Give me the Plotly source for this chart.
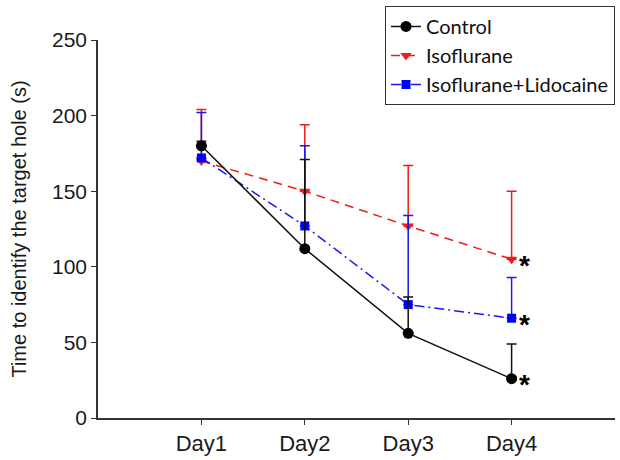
import plotly.graph_objects as go

days = ["Day1", "Day2", "Day3", "Day4"]

control = [180, 112, 56, 26]
control_err = [3, 59, 24, 23]

iso = [170, 150, 127, 105]
iso_err = [34, 44, 40, 45]

lido = [172, 127, 75, 66]
lido_err = [30, 53, 59, 27]

zeros = [0, 0, 0, 0]

fig = go.Figure()

def err(vals, color):
    return dict(type="data", symmetric=False, array=vals, arrayminus=zeros,
                color=color, thickness=1.5, width=5)

fig.add_trace(go.Scatter(
    x=days, y=iso, name="Isoflurane", mode="lines+markers",
    line=dict(color="#ee1c1c", width=1.5, dash="9px,6px"),
    marker=dict(symbol="triangle-down", size=10, color="#ee1c1c"),
    error_y=err(iso_err, "#ee1c1c"), legendrank=2))

fig.add_trace(go.Scatter(
    x=days, y=lido, name="Isoflurane+Lidocaine", mode="lines+markers",
    line=dict(color="#1a1aee", width=1.5, dash="10px,4px,2px,4px"),
    marker=dict(symbol="square", size=9, color="#0000ff"),
    error_y=err(lido_err, "#1a1aee"), legendrank=3))

fig.add_trace(go.Scatter(
    x=days, y=control, name="Control", mode="lines+markers",
    line=dict(color="#111111", width=1.5),
    marker=dict(symbol="circle", size=11, color="#000000"),
    error_y=err(control_err, "#111111"), legendrank=1))

for series in (control, iso, lido):
    fig.add_annotation(x=days[-1], y=series[-1], text="<b>*</b>", showarrow=False,
                       xanchor="left", yanchor="middle", xshift=5, yshift=-6,
                       font=dict(size=28, color="black", family="Liberation Sans"))

fig.update_layout(
    width=620, height=460,
    margin=dict(l=98, r=5, t=40, b=42),
    plot_bgcolor="white", paper_bgcolor="white",
    font=dict(family="Liberation Sans", size=20, color="#1a1a1a"),
    showlegend=True,
    legend=dict(x=1.0, xanchor="right", y=1.09, yanchor="top",
                bordercolor="#333", borderwidth=1, bgcolor="white",
                font=dict(family="Lato", size=20, color="#111"),
                itemwidth=30, tracegroupgap=0),
    xaxis=dict(type="category", range=[-1, 4], showline=True, linecolor="#333",
               linewidth=1.5, ticks="outside", ticklen=5, tickcolor="#333",
               showgrid=False, zeroline=False,
               tickfont=dict(family="Liberation Sans", size=22)),
    yaxis=dict(range=[0, 250], showline=True, linecolor="#333", linewidth=1.5,
               ticks="outside", ticklen=5, tickcolor="#333", dtick=50,
               showgrid=False, zeroline=False,
               tickfont=dict(family="Liberation Sans", size=21),
               title=dict(text="Time to identify the target hole (s)",
                          font=dict(family="Liberation Sans", size=20), standoff=20)),
)

fig.write_html("out.html")
